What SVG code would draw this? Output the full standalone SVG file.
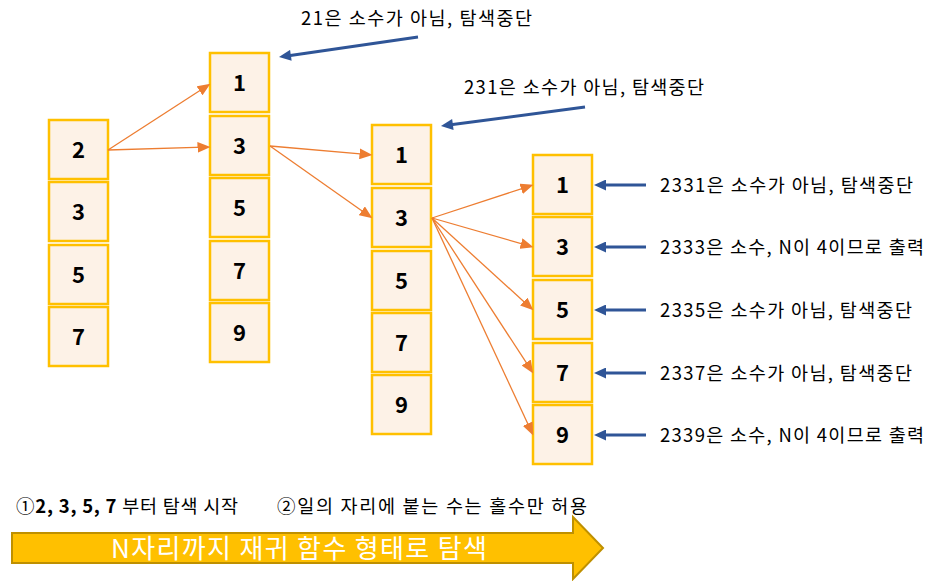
<svg xmlns="http://www.w3.org/2000/svg" width="943" height="581" viewBox="0 0 943 581">
<style>
.box{fill:#FDF2E7;stroke:#FFC000;stroke-width:2.5}
.num{font-family:"Noto Sans CJK KR","Noto Sans",sans-serif;font-weight:bold;font-size:22px;fill:#000;text-anchor:middle}
.lbl{font-family:"Noto Sans CJK KR","Noto Sans",sans-serif;font-size:18.5px;fill:#000}
.or{stroke:#ED7D31;stroke-width:1.3;fill:none;marker-end:url(#ah-o)}
.bl{stroke:#2F5597;stroke-width:3;fill:none;marker-end:url(#ah-b)}
</style>
<defs>
<marker id="ah-o" markerUnits="userSpaceOnUse" markerWidth="13" markerHeight="11" refX="6" refY="5" orient="auto" viewBox="0 0 12 10">
<path d="M0,0 L12,5 L0,10 z" fill="#ED7D31"/>
</marker>
<marker id="ah-b" markerUnits="userSpaceOnUse" markerWidth="13" markerHeight="11" refX="4" refY="5.5" orient="auto" viewBox="0 0 12 11">
<path d="M0,0 L12,5.5 L0,11 z" fill="#2F5597"/>
</marker>
</defs>
<rect width="943" height="581" fill="#fff"/>

<g id="col1">
<g id="n1-2"><rect class="box" x="49" y="120" width="59" height="59"/><text class="num" x="78.5" y="157.5">2</text></g>
<g id="n1-3"><rect class="box" x="49" y="182" width="59" height="59"/><text class="num" x="78.5" y="219.5">3</text></g>
<g id="n1-5"><rect class="box" x="49" y="245" width="59" height="59"/><text class="num" x="78.5" y="282.5">5</text></g>
<g id="n1-7"><rect class="box" x="49" y="307" width="59" height="59"/><text class="num" x="78.5" y="344.5">7</text></g>
</g>
<g id="col2">
<g id="n2-1"><rect class="box" x="210" y="53" width="59" height="59"/><text class="num" x="239.5" y="90.5">1</text></g>
<g id="n2-3"><rect class="box" x="210" y="116" width="59" height="59"/><text class="num" x="239.5" y="153.5">3</text></g>
<g id="n2-5"><rect class="box" x="210" y="178" width="59" height="59"/><text class="num" x="239.5" y="215.5">5</text></g>
<g id="n2-7"><rect class="box" x="210" y="241" width="59" height="59"/><text class="num" x="239.5" y="278.5">7</text></g>
<g id="n2-9"><rect class="box" x="210" y="303" width="59" height="59"/><text class="num" x="239.5" y="340.5">9</text></g>
</g>
<g id="col3">
<g id="n3-1"><rect class="box" x="372" y="125" width="59" height="59"/><text class="num" x="401.5" y="162.5">1</text></g>
<g id="n3-3"><rect class="box" x="372" y="188" width="59" height="59"/><text class="num" x="401.5" y="225.5">3</text></g>
<g id="n3-5"><rect class="box" x="372" y="251" width="59" height="59"/><text class="num" x="401.5" y="288.5">5</text></g>
<g id="n3-7"><rect class="box" x="372" y="313" width="59" height="59"/><text class="num" x="401.5" y="350.5">7</text></g>
<g id="n3-9"><rect class="box" x="372" y="375" width="59" height="59"/><text class="num" x="401.5" y="412.5">9</text></g>
</g>
<g id="col4">
<g id="n4-1"><rect class="box" x="533" y="155" width="59" height="59"/><text class="num" x="562.5" y="192.5">1</text></g>
<g id="n4-3"><rect class="box" x="533" y="217" width="59" height="59"/><text class="num" x="562.5" y="254.5">3</text></g>
<g id="n4-5"><rect class="box" x="533" y="280" width="59" height="59"/><text class="num" x="562.5" y="317.5">5</text></g>
<g id="n4-7"><rect class="box" x="533" y="343" width="59" height="59"/><text class="num" x="562.5" y="380.5">7</text></g>
<g id="n4-9"><rect class="box" x="533" y="405" width="59" height="59"/><text class="num" x="562.5" y="442.5">9</text></g>
</g>

<g id="connectors">
<line class="or" x1="108" y1="150" x2="204.96" y2="87.26"/>
<line class="or" x1="108" y1="150" x2="204.0" y2="147.18"/>
<line class="or" x1="270" y1="146" x2="366.02" y2="154.47"/>
<line class="or" x1="270" y1="146" x2="367.10" y2="214.54"/>
<line class="or" x1="432" y1="218" x2="527.30" y2="186.86"/>
<line class="or" x1="432" y1="218" x2="527.23" y2="245.34"/>
<line class="or" x1="432" y1="218" x2="528.56" y2="305.96"/>
<line class="or" x1="432" y1="218" x2="529.72" y2="367.97"/>
<line class="or" x1="432" y1="218" x2="530.47" y2="429.56"/>
<line class="bl" x1="418" y1="37" x2="286.9" y2="55.9"/>
<line class="bl" x1="585" y1="107" x2="448.9" y2="124.95"/>
<line class="bl" x1="646" y1="185" x2="602" y2="185"/>
<line class="bl" x1="646" y1="247" x2="602" y2="247"/>
<line class="bl" x1="646" y1="310" x2="602" y2="310"/>
<line class="bl" x1="646" y1="373" x2="602" y2="373"/>
<line class="bl" x1="646" y1="435" x2="602" y2="435"/>
</g>

<g id="labels">
<text class="lbl" x="301" y="25" textLength="231" lengthAdjust="spacing">21은 소수가 아님, 탐색중단</text>
<text class="lbl" x="464" y="94" textLength="240" lengthAdjust="spacing">231은 소수가 아님, 탐색중단</text>
<text class="lbl" x="660" y="192" textLength="253" lengthAdjust="spacing">2331은 소수가 아님, 탐색중단</text>
<text class="lbl" x="660" y="254" textLength="264" lengthAdjust="spacing">2333은 소수, N이 4이므로 출력</text>
<text class="lbl" x="660" y="317" textLength="252" lengthAdjust="spacing">2335은 소수가 아님, 탐색중단</text>
<text class="lbl" x="660" y="380" textLength="252" lengthAdjust="spacing">2337은 소수가 아님, 탐색중단</text>
<text class="lbl" x="660" y="442" textLength="264" lengthAdjust="spacing">2339은 소수, N이 4이므로 출력</text>
<text class="lbl" x="16" y="513" textLength="222" lengthAdjust="spacing">①<tspan font-weight="bold">2, 3, 5, 7</tspan> 부터 탐색 시작</text>
<text class="lbl" x="277" y="513" textLength="310" lengthAdjust="spacing">②일의 자리에 붙는 수는 홀수만 허용</text>
</g>

<g id="big-arrow">
<polygon points="12,533 573,533 573,517 603,548 573,579 573,563 12,563" fill="#FFC000" stroke="#BF9000" stroke-width="2"/>
<text x="111" y="558" font-family="'Noto Sans CJK KR','Noto Sans',sans-serif" font-size="26px" fill="#fff" textLength="376" lengthAdjust="spacing">N자리까지 재귀 함수 형태로 탐색</text>
</g>
</svg>
